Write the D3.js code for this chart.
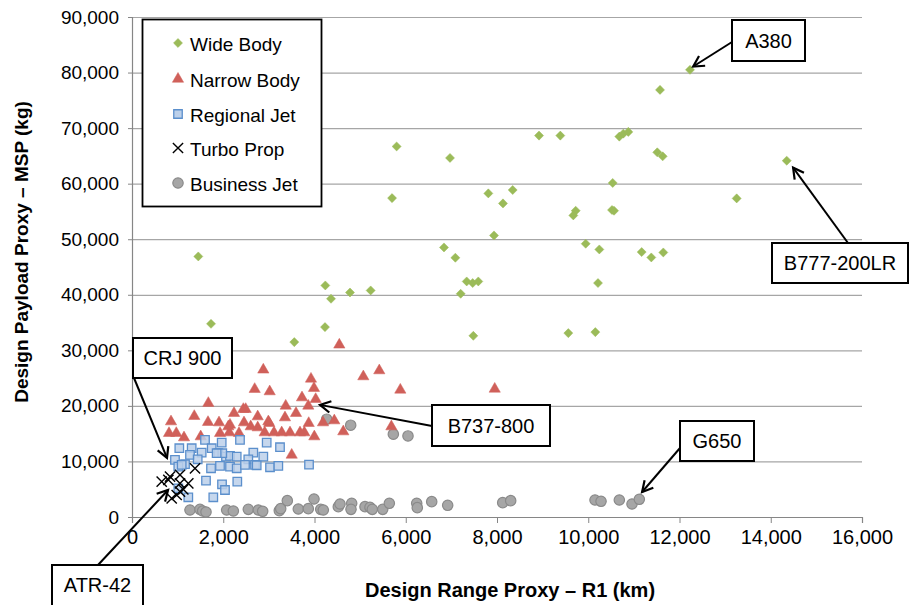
<!DOCTYPE html>
<html>
<head>
<meta charset="utf-8">
<script src="https://cdn.jsdelivr.net/npm/d3@7"></script>
<style>
  html, body { margin: 0; padding: 0; background: #fff; }
  svg { display: block; font-family: "Liberation Sans", Arial, sans-serif; }
</style>
</head>
<body>
<svg id="chart" width="913" height="605"></svg>
<script>
// Design range proxy R1 (km) vs design payload proxy MSP (kg), by aircraft class

const wideBody = [
  [1453,46900],[1732,34770],[3557,31480],[4230,34180],[4237,41680],[4362,39280],
  [4778,40410],[5231,40780],[5700,57400],[5800,66700],[6838,48520],[6970,64630],
  [7087,46670],[7204,40180],[7336,42400],[7467,42110],[7590,42400],[7481,32610],
  [7810,58250],[7934,50680],[8131,56450],[8344,58860],[8921,68650],[9388,68650],
  [9563,33100],[9673,54290],[9725,55130],[9944,49190],[10155,33280],[10214,42110],
  [10243,48160],[10521,55260],[10565,55130],[10536,60130],[10681,68470],[10768,69000],
  [10878,69320],[11171,47690],[11382,46720],[11513,65640],[11573,76880],[11631,64920],
  [11645,47620],[12230,80490],[13253,57350],[14350,64140]
];

const narrowBody = [
  [4544,30990],[2878,26490],[5070,25280],[5420,26360],[2689,23010],[3018,22580],
  [3923,24860],[3989,23190],[3726,21490],[4026,21200],[1673,20490],[3369,20000],
  [3864,20000],[2440,19400],[2492,19400],[2236,18680],[3595,18680],[1365,18140],
  [2755,18070],[3353,17890],[855,17170],[1666,17060],[1907,16990],[2148,16580],
  [2455,16990],[2602,16270],[2755,16090],[3009,16880],[3873,16880],[4186,16990],
  [4434,17350],[811,15080],[971,15080],[1140,14290],[1506,14470],[1929,15080],
  [2133,15190],[2345,15080],[2908,15190],[3112,15190],[3281,15190],[3463,15190],
  [3682,15190],[3777,15190],[3996,14470],[4631,15370],[3500,11170],[5881,22880],
  [7950,23050],[5685,16270],[2111,16270],[2988,17170]
];

const regionalJet = [
  [1037,12380],[1308,12380],[1600,13870],[1966,13390],[2367,13870],[2952,13390],
  [3244,12560],[1271,11170],[1527,11590],[1747,12380],[1892,11480],[2060,10870],
  [2148,10990],[2295,10870],[2659,11590],[2878,10870],[2549,10390],[942,10270],
  [1440,10390],[1162,9500],[1732,8770],[1929,9190],[2148,9060],[2295,8770],
  [2477,9370],[2696,9370],[2733,9310],[3025,8950],[3207,9190],[3880,9420],
  [1015,9060],[1089,9370],[1622,6540],[2308,6370],[1973,5890],[2038,4860],
  [1015,5170],[1234,3550],[1782,3550],[1979,11480],[1855,11480]
];

const turboProp = [
  [651,6370],[797,6670],[1052,7570],[1381,8770],[1234,6070],[1052,6070],
  [1052,4560],[979,3960],[870,3370],[1125,4990],[833,7260]
];

const businessJet = [
  [1271,1260],[1490,1380],[1549,1080],[1622,900],[2075,1260],[2221,1080],
  [2549,1380],[2768,1260],[2864,1030],[3229,1140],[3259,1500],[3404,2940],
  [3645,1440],[3864,1500],[3989,3240],[4136,1380],[4193,1260],[4522,1860],
  [4559,2340],[4815,2470],[4800,1380],[5107,1860],[5216,1750],[5267,1380],
  [5495,1380],[5640,2470],[6240,2470],[6253,1680],[6569,2760],[6919,2110],
  [8125,2580],[8300,2940],[10148,3060],[10280,2830],[10681,3060],[10959,2340],
  [11119,3190],[4267,17600],[4793,16520],[5728,14900],[6049,14590]
];

const seriesNames = ["Wide Body", "Narrow Body", "Regional Jet", "Turbo Prop", "Business Jet"];
const xTicks = [0, 2000, 4000, 6000, 8000, 10000, 12000, 14000, 16000];
const yTicks = [0, 10000, 20000, 30000, 40000, 50000, 60000, 70000, 80000, 90000];
const xTitle = "Design Range Proxy \u2013 R1 (km)";
const yTitle = "Design Payload Proxy \u2013 MSP (kg)";

// Callout labels and the aircraft point each one points at
const calloutLabels = ["A380", "B777-200LR", "B737-800", "G650", "CRJ 900", "ATR-42"];
const calloutTargets = [[12300,81090],[14490,62880],[4120,20180],[11180,4500],[767,10630],[790,4860]];

// ---- layout ----
const svg = d3.select("#chart");
const plot = { left: 132, right: 862, top: 17, bottom: 517 };
const FONT = "Liberation Sans, Arial, sans-serif";

const x = d3.scaleLinear().domain([0, 16000]).range([plot.left, plot.right]);
const y = d3.scaleLinear().domain([0, 90000]).range([plot.bottom, plot.top]);
const fmt = d3.format(",");

// gridlines
svg.append("g")
  .attr("transform", `translate(${plot.left},0)`)
  .call(d3.axisLeft(y).tickValues(yTicks).tickSize(-(plot.right - plot.left)).tickFormat(""))
  .call(g => g.select(".domain").remove())
  .call(g => g.selectAll("line").attr("stroke", "#a6a6a6").attr("stroke-width", 1.2));

// y axis with short outer ticks and labels
const yAxis = svg.append("g")
  .attr("transform", `translate(${plot.left},0)`)
  .call(d3.axisLeft(y).tickValues(yTicks).tickSize(4).tickPadding(9).tickFormat(fmt));
yAxis.select(".domain").attr("stroke", "#868686").attr("stroke-width", 1.2);
yAxis.selectAll("line").attr("stroke", "#868686");
yAxis.selectAll("text").attr("font-size", 19).attr("fill", "#000").attr("font-family", FONT);

// x axis
const xAxis = svg.append("g")
  .attr("transform", `translate(0,${plot.bottom})`)
  .call(d3.axisBottom(x).tickValues(xTicks).tickSize(6).tickPadding(5).tickFormat(fmt));
xAxis.select(".domain").attr("stroke", "#868686").attr("stroke-width", 1.2);
xAxis.selectAll("line").attr("stroke", "#868686");
xAxis.selectAll("text").attr("font-size", 20).attr("fill", "#000").attr("dy", "0.8em").attr("font-family", FONT);

// axis titles
svg.append("text")
  .attr("x", 510).attr("y", 597)
  .attr("text-anchor", "middle").attr("font-weight", "bold").attr("font-size", 20)
  .attr("font-family", FONT)
  .text(xTitle);
svg.append("text")
  .attr("transform", `translate(28,${(plot.top + plot.bottom) / 2 - 15}) rotate(-90)`)
  .attr("text-anchor", "middle").attr("font-weight", "bold").attr("font-size", 19)
  .attr("font-family", FONT)
  .text(yTitle);

// ---- marker styles ----
const sym = (type, size) => d3.symbol().type(type).size(size)();
const styles = [
  { data: wideBody,    path: sym(d3.symbolDiamond2, 52), fill: "#9bbb59", stroke: "#9bbb59", sw: 0.5 },
  { data: narrowBody,  path: sym(d3.symbolTriangle, 55), fill: "#d0605a", stroke: "#d0605a", sw: 0.5 },
  { data: regionalJet, path: sym(d3.symbolSquare, 72),   fill: "#bcd0ea", stroke: "#5b8fcc", sw: 1.3 },
  { data: turboProp,   path: sym(d3.symbolTimes, 70),    fill: "none",    stroke: "#000",    sw: 1.4 },
  { data: businessJet, path: sym(d3.symbolCircle, 85),   fill: "#a6a6a6", stroke: "#8a8a8a", sw: 1.2 }
];

// draw order: business, narrow, regional, turbo, wide
const drawOrder = [4, 1, 2, 3, 0];
drawOrder.forEach(i => {
  const s = styles[i];
  svg.append("g").selectAll("path").data(s.data).join("path")
    .attr("transform", d => `translate(${x(d[0])},${y(d[1])})`)
    .attr("d", s.path)
    .attr("fill", s.fill).attr("fill-opacity", i === 2 ? 0.85 : 1)
    .attr("stroke", s.stroke).attr("stroke-width", s.sw);
});

// ---- legend ----
const legend = svg.append("g");
legend.append("rect").attr("x", 142.5).attr("y", 19.5).attr("width", 179).attr("height", 187)
  .attr("fill", "#fff").attr("stroke", "#000").attr("stroke-width", 1.8);
const legendRows = [44, 80, 115, 149, 184];
seriesNames.forEach((name, i) => {
  const s = styles[i];
  const row = legend.append("g").attr("transform", `translate(0,${legendRows[i]})`);
  row.append("path").attr("transform", "translate(178,-1)").attr("d", s.path)
    .attr("fill", s.fill).attr("stroke", s.stroke).attr("stroke-width", s.sw);
  row.append("text").attr("x", 190).attr("y", 0).attr("dy", "0.35em")
    .attr("font-size", 19).attr("font-family", FONT)
    .text(name);
});

// ---- callouts: box, leader line, open arrowhead ----
const calloutBoxes = [
  { x0: 732, y0: 20,  x1: 805, y1: 61,  from: [732, 42] },
  { x0: 772, y0: 243, x1: 908, y1: 283, from: [848, 243] },
  { x0: 432, y0: 405, x1: 550, y1: 446, from: [432, 426] },
  { x0: 680, y0: 421, x1: 754, y1: 461, from: [680, 448] },
  { x0: 133, y0: 338, x1: 232, y1: 378, from: [134, 378] },
  { x0: 52,  y0: 565, x1: 143, y1: 608, from: [98, 565] }
];
const callouts = svg.append("g");
calloutLabels.forEach((label, i) => {
  const b = calloutBoxes[i];
  const tx = x(calloutTargets[i][0]), ty = y(calloutTargets[i][1]);
  const [fx, fy] = b.from;
  callouts.append("line").attr("x1", fx).attr("y1", fy).attr("x2", tx).attr("y2", ty)
    .attr("stroke", "#000").attr("stroke-width", 2);
  const ang = Math.atan2(fy - ty, fx - tx);
  const L = 12, spread = 0.5;
  const p1 = [tx + L * Math.cos(ang + spread), ty + L * Math.sin(ang + spread)];
  const p2 = [tx + L * Math.cos(ang - spread), ty + L * Math.sin(ang - spread)];
  callouts.append("path").attr("d", `M${p1[0]},${p1[1]}L${tx},${ty}L${p2[0]},${p2[1]}`)
    .attr("fill", "none").attr("stroke", "#000").attr("stroke-width", 2.2)
    .attr("stroke-linejoin", "miter");
  callouts.append("rect").attr("x", b.x0).attr("y", b.y0)
    .attr("width", b.x1 - b.x0).attr("height", b.y1 - b.y0)
    .attr("fill", "#fff").attr("stroke", "#000").attr("stroke-width", 2);
  callouts.append("text").attr("x", (b.x0 + b.x1) / 2).attr("y", (b.y0 + Math.min(b.y1, 605)) / 2)
    .attr("dy", "0.36em").attr("text-anchor", "middle").attr("font-size", 20)
    .attr("font-family", FONT)
    .text(label);
});
</script>
</body>
</html>
